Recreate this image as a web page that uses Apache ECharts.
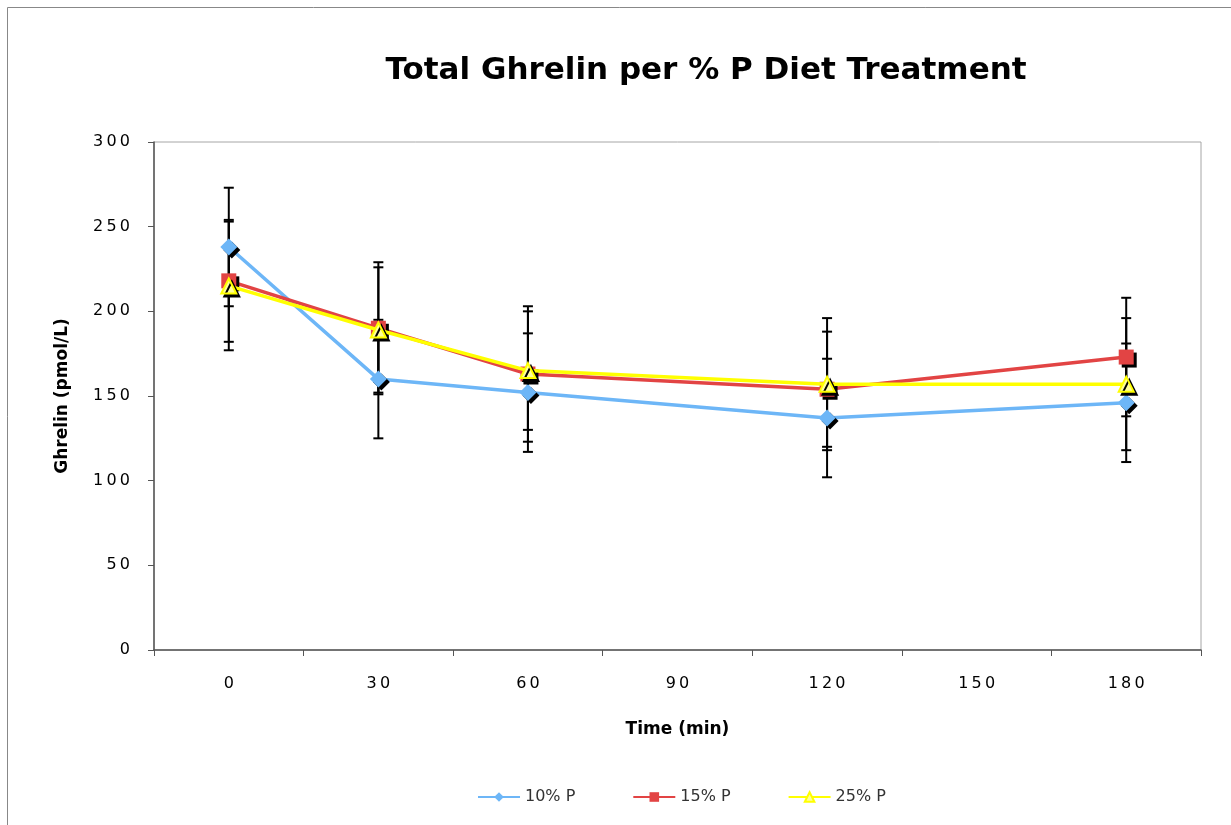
<!DOCTYPE html>
<html>
<head>
<meta charset="utf-8">
<script src="https://cdn.jsdelivr.net/npm/echarts@6/dist/echarts.min.js"></script>
<style>
html, body { margin: 0; padding: 0; background: #fff; }
#main { width: 1231px; height: 825px; }
</style>
</head>
<body>
<div id="main"></div>
<script>
var timeLabels = ['0', '30', '60', '90', '120', '150', '180'];
var sampleTimes = ['0', '30', '60', '120', '180'];

var p10 = [238, 160, 152, 137, 146];
var p15 = [218, 190, 163, 154, 173];
var p25 = [215, 189, 165, 157, 157];

var err10 = [35, 35, 35, 35, 35];
var err15 = [36, 39, 40, 34, 35];
var err25 = [38, 37, 35, 39, 39];

var font = '"DejaVu Sans", Verdana, sans-serif';

function spaced(s) {
    return String(s).split('').join('\u2009');
}

function lineData(vals) {
    return sampleTimes.map(function (t, i) { return [t, vals[i]]; });
}

function errData(vals, errs) {
    return sampleTimes.map(function (t, i) { return [t, vals[i] - errs[i], vals[i] + errs[i]]; });
}

function errRender(params, api) {
    var lo = api.coord([api.value(0), api.value(1)]);
    var hi = api.coord([api.value(0), api.value(2)]);
    var w = 5;
    var style = { stroke: '#000', lineWidth: 2 };
    return {
        type: 'group',
        children: [
            { type: 'line', shape: { x1: hi[0], y1: hi[1], x2: lo[0], y2: lo[1] }, style: style },
            { type: 'line', shape: { x1: hi[0] - w, y1: hi[1], x2: hi[0] + w, y2: hi[1] }, style: style },
            { type: 'line', shape: { x1: lo[0] - w, y1: lo[1], x2: lo[0] + w, y2: lo[1] }, style: style }
        ]
    };
}

function errSeries(vals, errs) {
    return {
        type: 'custom',
        z: 1,
        silent: true,
        renderItem: errRender,
        encode: { x: 0, y: [1, 2] },
        data: errData(vals, errs)
    };
}

var shadow = { shadowColor: '#000', shadowBlur: 0, shadowOffsetX: 3, shadowOffsetY: 3 };

var myChart = echarts.init(document.getElementById('main'));

myChart.setOption({
    animation: false,
    title: {
        text: 'Total Ghrelin per % P Diet Treatment',
        left: 701,
        top: 50,
        textAlign: 'center',
        textStyle: { fontFamily: font, fontSize: 31, fontWeight: 'bold', color: '#000' }
    },
    graphic: [{
        type: 'rect',
        shape: { x: 7.5, y: 7.5, width: 1300, height: 900 },
        style: { fill: 'none', stroke: '#888', lineWidth: 1 },
        silent: true
    }],
    legend: {
        top: 784,
        left: 472,
        itemWidth: 42,
        itemHeight: 12,
        itemGap: 57,
        textStyle: { fontFamily: font, fontSize: 16, color: '#333' },
        itemStyle: { shadowColor: 'transparent', shadowOffsetX: 0, shadowOffsetY: 0 },
        data: ['10% P', '15% P', '25% P']
    },
    grid: {
        left: 154,
        right: 30,
        top: 142,
        bottom: 175,
        show: true,
        borderColor: '#a6a6a6',
        borderWidth: 1
    },
    xAxis: {
        type: 'category',
        data: timeLabels,
        boundaryGap: true,
        name: 'Time (min)',
        nameLocation: 'middle',
        nameGap: 71,
        nameTextStyle: { fontFamily: font, fontSize: 17, fontWeight: 'bold', color: '#000' },
        axisLine: { lineStyle: { color: '#555', width: 1.5 } },
        axisTick: { show: true, length: 6, alignWithLabel: false, lineStyle: { color: '#555' } },
        axisLabel: {
            margin: 26,
            fontFamily: font,
            fontSize: 16,
            color: '#000',
            formatter: spaced
        },
        splitLine: { show: false }
    },
    yAxis: {
        type: 'value',
        min: 0,
        max: 300,
        interval: 50,
        name: 'Ghrelin (pmol/L)',
        nameLocation: 'middle',
        nameGap: 83,
        nameTextStyle: { fontFamily: font, fontSize: 17, fontWeight: 'bold', color: '#000' },
        axisLine: { show: true, lineStyle: { color: '#555', width: 1.5 } },
        axisTick: { show: true, length: 6, lineStyle: { color: '#555' } },
        axisLabel: {
            margin: 24,
            fontFamily: font,
            fontSize: 16,
            color: '#000',
            formatter: spaced
        },
        splitLine: { show: false }
    },
    series: [
        errSeries(p10, err10),
        errSeries(p15, err15),
        errSeries(p25, err25),
        {
            name: '10% P',
            type: 'line',
            z: 3,
            data: lineData(p10),
            symbol: 'diamond',
            symbolSize: 17,
            lineStyle: { color: '#6db6f7', width: 3.5 },
            itemStyle: Object.assign({ color: '#6db6f7' }, shadow)
        },
        {
            name: '15% P',
            type: 'line',
            z: 4,
            data: lineData(p15),
            symbol: 'rect',
            symbolSize: 15,
            lineStyle: { color: '#e24444', width: 3.5 },
            itemStyle: Object.assign({ color: '#e24444' }, shadow)
        },
        {
            name: '25% P',
            type: 'line',
            z: 5,
            data: lineData(p25),
            symbol: 'triangle',
            symbolSize: 15,
            lineStyle: { color: '#ffff00', width: 3.5 },
            itemStyle: Object.assign({ color: '#ffff99', borderColor: '#ffff00', borderWidth: 2 }, shadow)
        }
    ]
});
</script>
</body>
</html>
